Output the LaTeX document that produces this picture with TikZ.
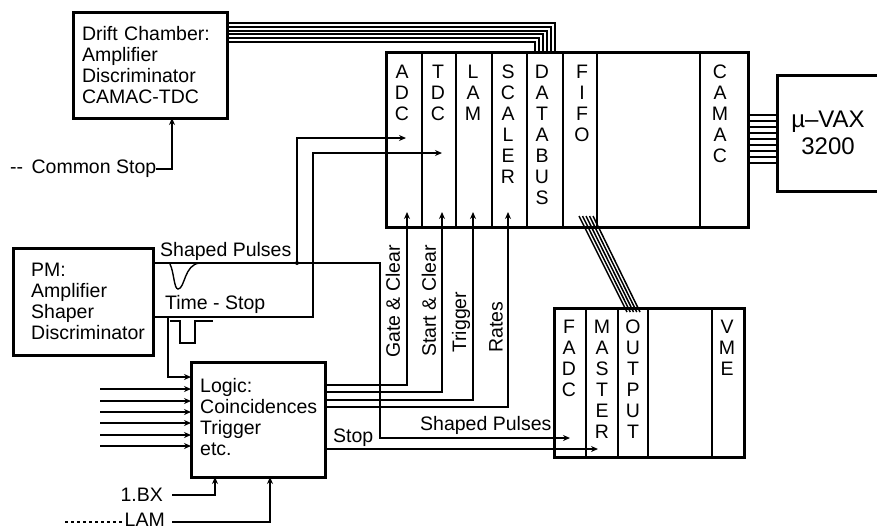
\documentclass[tikz,border=0pt]{standalone}
\usepackage{fontspec}
\setmainfont{Liberation Sans}
\usetikzlibrary{arrows.meta}
\tikzset{
    scatola/.style={draw, line width=3pt, rectangle, anchor=north west, outer sep=0pt, inner sep=0pt, align=left},
    lettere/.style={anchor=north, align=center, inner sep=0pt},
    testo/.style={inner sep=0pt},
    filo/.style={line width=1.1pt},
    freccia/.style={line width=1.2pt, -{Stealth[length=7pt,width=6pt]}},
    every node/.style={font=\fontsize{19.5}{21}\selectfont}
}
\begin{document}
\begin{tikzpicture}[x=1pt,y=-1pt]
    \useasboundingbox (0,0) rectangle (877,531);

    % Scatole principali
    \node[scatola, minimum width=154pt, minimum height=106pt, text width=136pt, inner xsep=9pt] (drift) at (73,12)
        {Drift Chamber:\\Amplifier\\Discriminator\\CAMAC-TDC};
    \node[scatola, minimum width=140pt, minimum height=107pt] (pm) at (13,248) {};
    \node[testo, anchor=north west, align=left] (pmTesto) at (31,263) {PM:\\Amplifier\\Shaper\\Discriminator};
    \node[scatola, minimum width=134pt, minimum height=115pt] (logica) at (191,362) {};
    \node[testo, anchor=north west, align=left] (logicaTesto) at (200,378) {Logic:\\Coincidences\\Trigger\\etc.};
    \node[scatola, minimum width=102pt, minimum height=116pt, align=center, font=\fontsize{24}{27}\selectfont] (vax) at (777,75)
        {µ--VAX\\3200};

    % Crate CAMAC con i suoi moduli
    \node[scatola, minimum width=362pt, minimum height=175pt] (crate) at (386,52) {};
    \foreach \x in {36,70,106,141,177,211,314}
        \draw[filo] ([xshift=\x pt]crate.north west) -- ([xshift=\x pt]crate.south west);
    \node[lettere] (adc) at (402,65) {A\\D\\C};
    \node[lettere] (tdc) at (438,65) {T\\D\\C};
    \node[lettere] (lamModulo) at (473,65) {L\\A\\M};
    \node[lettere] (scaler) at (508,65) {S\\C\\A\\L\\E\\R};
    \node[lettere] (databus) at (542,65) {D\\A\\T\\A\\B\\U\\S};
    \node[lettere] (fifo) at (582,65) {F\\I\\F\\O};
    \node[lettere] (camac) at (720,65) {C\\A\\M\\A\\C};

    % Crate VME con i suoi moduli
    \node[scatola, minimum width=190pt, minimum height=149pt] (vme) at (554,308) {};
    \foreach \x in {32,64,94,158}
        \draw[filo] ([xshift=\x pt]vme.north west) -- ([xshift=\x pt]vme.south west);
    \node[lettere] (fadc) at (569,320) {F\\A\\D\\C};
    \node[lettere] (master) at (602,320) {M\\A\\S\\T\\E\\R};
    \node[lettere] (output) at (633,320) {O\\U\\T\\P\\U\\T};
    \node[lettere] (vmeModulo) at (727,320) {V\\M\\E};

    % Cavi a piu' fili
    \foreach \a/\b in {11/169,15/165,19/161,22/157,26/153,30/149}
        \draw[filo, line width=1.5pt] ([yshift=-\a pt]drift.north east) -| ([xshift=\b pt]crate.north west);
    \foreach \i in {0,...,8}
        \draw[filo, line width=1.7pt] ([yshift=-63pt-\i*6pt]crate.north east) -- ([yshift=-40pt-\i*6pt]vax.north west);
    \foreach \i in {0,...,4}
        \draw[filo, line width=1.5pt] ([xshift=193pt+\i*3.5pt,yshift=11pt]crate.south west) -- ([xshift=73pt+\i*3.25pt,yshift=-4pt]vme.north west);

    % Etichette
    \node[testo, anchor=west] (commonStop) at (10,169) {{-}{-}\hspace{3pt} Common Stop};
    \node[testo, anchor=west] (shapedUno) at (160,251) {Shaped Pulses};
    \node[testo, anchor=west] (timeStop) at (165,304) {Time - Stop};
    \node[testo, anchor=west] (shapedDue) at (420,425) {Shaped Pulses};
    \node[testo, anchor=west] (stop) at (333,438) {Stop};
    \node[testo, anchor=east] (bx) at (163,495) {1.BX};
    \node[testo, anchor=east] (lam) at (165,520) {LAM};
    \node[testo, rotate=90, anchor=west] (gate) at (393,358) {Gate \& Clear};
    \node[testo, rotate=90, anchor=west] (start) at (429,357) {Start \& Clear};
    \node[testo, rotate=90, anchor=west] (trigger) at (461,353) {Trigger};
    \node[testo, rotate=90, anchor=west] (rates) at (496,353) {Rates};

    % Punti di arrivo e di svolta
    \coordinate (shapedOut) at (153,263);
    \coordinate (shapedNodo) at (297,263);
    \coordinate (shapedGiro) at (380,263);
    \coordinate (timeOut) at (153,317);
    \coordinate (timeNodo) at (168,317);
    \coordinate (timeGiro) at (313,317);
    \coordinate (adcIn) at (406,138);
    \coordinate (tdcIn) at (442,153);
    \coordinate (fadcIn) at (570,438);
    \coordinate (masterIn) at (598,449);
    \coordinate (gateIn) at (407,212);
    \coordinate (startIn) at (442,212);
    \coordinate (triggerIn) at (473,212);
    \coordinate (ratesIn) at (508,212);
    \coordinate (lamInizio) at (65,522);

    % Segnali dal PM
    \draw[freccia] (shapedOut) -- (shapedGiro) |- (fadcIn);
    \draw[freccia] (shapedNodo) |- (adcIn);
    \fill (shapedNodo) circle (2pt);
    \draw[freccia] (timeOut) -- (timeGiro) |- (tdcIn);
    \draw[freccia] (timeNodo) |- ([yshift=-15pt]logica.north west);

    % Forma degli impulsi
    \draw[filo, line width=1.4pt] (170,264) .. controls (174,272) and (174,289) .. (178,289) .. controls (185,289) and (184,264) .. (200,263);
    \draw[filo] (170,321) -- (180,321) -- (180,343) -- (195,343) -- (195,321) -- (213,321);

    % Ingressi e uscite della logica
    \foreach \y in {27,39,50,61,73,84}
        \draw[freccia] ([xshift=-91pt,yshift=-\y pt]logica.north west) -- ([yshift=-\y pt]logica.north west);
    \draw[freccia] ([yshift=-23pt]logica.north east) -| (gateIn);
    \draw[freccia] ([yshift=-30pt]logica.north east) -| (startIn);
    \draw[freccia] ([yshift=-38pt]logica.north east) -| (triggerIn);
    \draw[freccia] ([yshift=-45pt]logica.north east) -| (ratesIn);
    \draw[freccia] ([yshift=-87pt]logica.north east) -- (masterIn);

    % Common Stop, 1.BX e LAM
    \draw[freccia] (commonStop.east) -| ([xshift=99pt]drift.south west);
    \draw[freccia] ([xshift=9pt]bx.east) -| ([xshift=24pt]logica.south west);
    \draw[freccia] ([xshift=7pt,yshift=-2pt]lam.east) -| ([xshift=79pt]logica.south west);
    \draw[filo, dashed] (lamInizio) -- ([xshift=-3pt,yshift=-2pt]lam.west);
\end{tikzpicture}
\end{document}
